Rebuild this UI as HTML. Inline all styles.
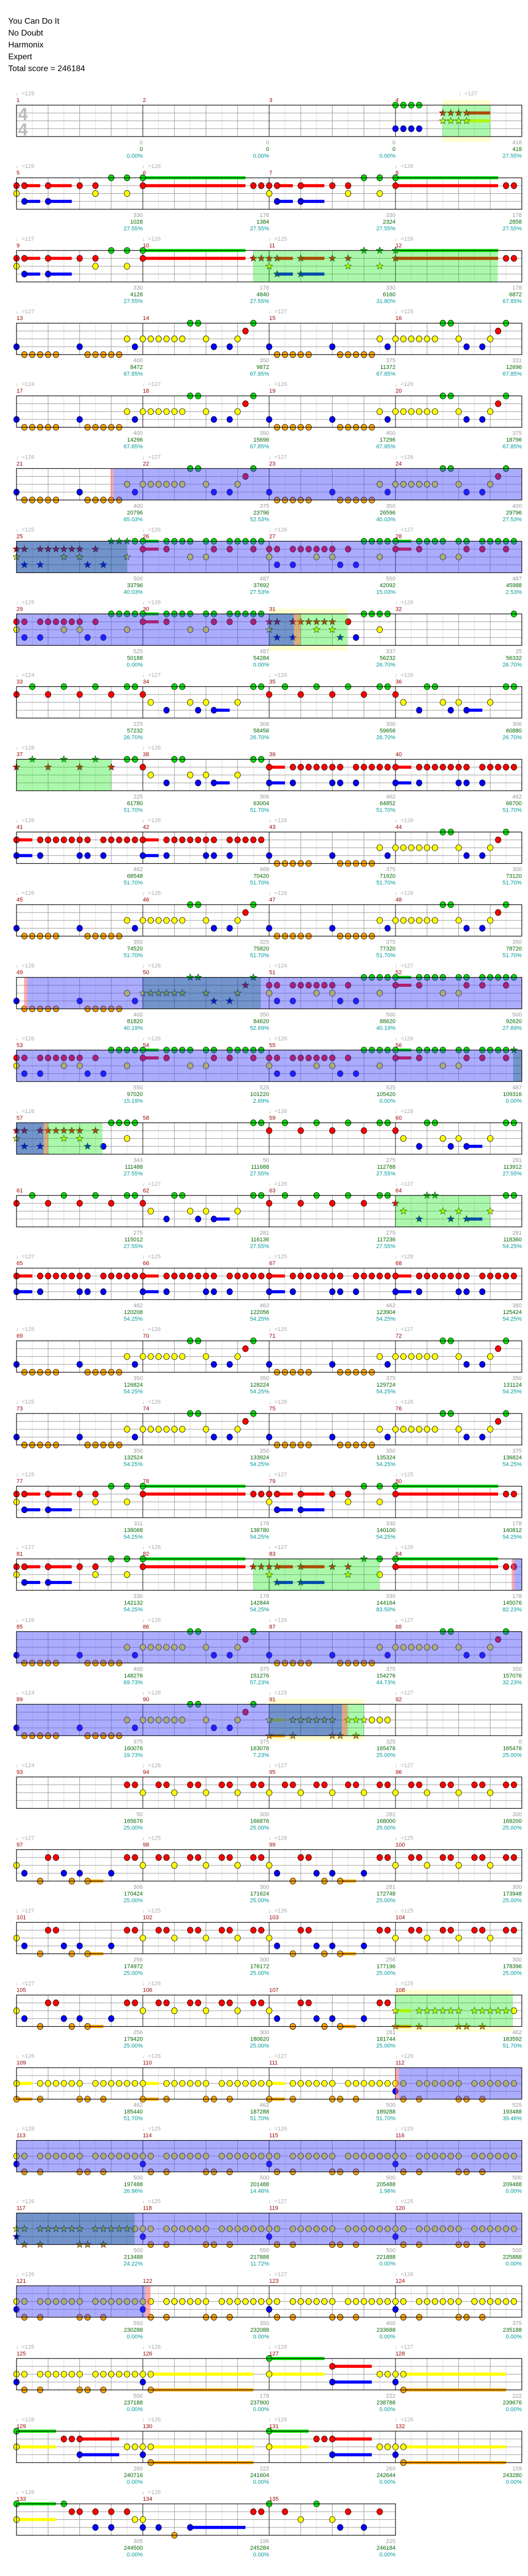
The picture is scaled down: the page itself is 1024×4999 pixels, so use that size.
<!DOCTYPE html>
<html><head><meta charset="utf-8">
<style>
html,body{margin:0;padding:0;background:#fff;width:1024px;height:4999px;overflow:hidden}
#title{position:absolute;left:16px;top:30px;font-family:"Liberation Sans",sans-serif;font-size:16px;line-height:23px;color:#000}
svg{position:absolute;left:0;top:0}
</style></head><body>
<div id="title">You Can Do It<br>No Doubt<br>Harmonix<br>Expert<br>Total score = 246184</div>
<div id="c"></div>
<script>
var X0=32,MW=245,SH=61,LS=15.25;
function T(r){return 204+r*141.06;}
var TP={
E:[],E1:[[0,15]],E2:[[0,14],[0,15]],
I4:[[0,0],[0,1],[0,2],[0,3],[3,0],[3,1],[3,2],[3,3],[1,6],[1,7],[1,8],[1,9,3],[2,6],[2,7],[2,8],[2,9,3]],
S1:[[1,0],[1,1,2],[2,0],[1,4,3],[3,1,2],[3,4,3],[1,8],[1,10],[2,10],[0,12],[0,14],[2,14]],
S2:[[0,0,13],[1,0,13],[1,14],[1,15]],
Y1:[[3,0],[4,1],[4,2],[4,3],[4,4],[4,5],[3,8],[4,9],[4,10],[4,11],[4,12],[4,13],[2,14],[3,15]],
Y2:[[2,0],[2,1],[2,2],[2,3],[2,4],[2,5],[0,6],[0,7],[2,8],[3,9],[3,11],[2,12],[1,13],[0,14]],
R1:[[0,0,2],[1,0,2],[0,3],[0,4],[0,5],[0,6],[0,8],[0,9],[0,11],[0,12],[0,13],[0,14],[0,15],[1,3],[1,9],[1,11],[1,14],[2,6],[2,8]],
R2:[[1,0],[1,1],[1,3],[1,4],[1,5],[1,6],[1,7],[1,8],[1,10],[0,12],[0,13],[0,14],[0,15],[3,1],[3,3],[3,9],[3,11],[2,0],[2,6],[2,8],[2,14]],
G1:[[0,2],[0,6],[0,10],[0,14],[0,15],[1,0],[1,4],[1,8],[1,12]],
G2:[[1,0],[2,1],[3,3],[0,4],[0,5],[2,6],[2,8],[3,7],[3,9,2],[2,12],[0,14],[0,15]],
D:[[1,0,2],[3,0,2],[1,3],[1,4],[1,5],[1,6],[1,7],[1,8],[1,9],[1,11],[1,12],[1,13],[1,14],[1,15],[3,3],[3,8],[3,9],[3,11]],
P0:[[1,14],[1,15]],
P1:[[2,0],[1,2],[1,3],[2,4],[1,6],[1,7],[2,8],[1,10],[1,11],[2,12],[1,14],[1,15]],
P2:[[2,0],[3,1],[1,4],[1,5],[4,3],[3,6],[3,8],[4,7],[4,9,2],[3,12],[1,14],[1,15]],
Q:[[2,0,2],[4,0,2],[2,3],[2,4],[2,5],[2,6],[2,7],[2,8],[2,10],[2,11],[2,12],[2,13],[2,14],[2,15],[4,3],[4,8],[4,9],[4,11]],
Q2:[[2,0],[2,1],[2,3],[2,4],[2,5],[2,6],[2,7],[2,8],[2,10],[2,11],[2,12],[2,13],[2,14],[2,15],[3,0],[4,1],[4,3],[4,8],[4,9],[4,11]],
Z1:[[2,0],[3,0],[2,1,13],[4,1,13]],
Z2:[[0,0,7],[2,0,7],[1,8,5],[3,8,5],[2,14],[2,15]],
Z3:[[0,0,5],[2,0,5],[1,6],[1,7],[1,8,5],[3,8,5],[2,14],[2,15]],
L1:[[0,0,5],[2,0,5],[0,6],[1,7],[1,8],[1,10],[1,12],[1,14],[3,10],[3,12],[2,15]],
L2:[[2,0],[3,0],[3,2],[4,4],[3,6,7],[1,14],[1,15]],
L3:[[0,0],[1,2],[2,4],[0,6],[2,8],[1,10],[3,9],[1,14],[3,12]]
};
var ROWS=[
"E E E I4","S1 S2 S1 S2","S1 S2 S1 S2","Y1 Y2 Y1 Y2","Y1 Y2 Y1 Y2","Y1 Y2 Y1 Y2",
"R2 R1 R2 R1","R2 R1 R2 E1","G1 G2 G1 G2","G1 G2 D D","D D Y1 Y2","Y1 Y2 Y1 Y2",
"Y1 Y2 R2 R1","R2 R1 R2 R1","R2 E2 G1 G2","G1 G2 G1 G2","D D D D","Y1 Y2 Y1 Y2",
"Y1 Y2 Y1 Y2","S1 S2 S1 S2","S1 S2 S1 S2","Y1 Y2 Y1 Y2","Y1 Y2 Q E","P0 P1 P1 P1",
"P2 P1 P2 P1","P2 P1 P2 P1","P2 P1 P2 Q","Q Q Q Q2","Q2 Q2 Q2 Q2","Q2 Q2 Q2 Q2",
"Q2 Q2 Q2 Q2","Q2 Z1 Z2 Z1","Z3 Z1 Z3 Z1","L1 L2 L3"];
// overlays: [row, type, start, end] type: b blue, g green, t teal, n tan, p pink, y pale
var OV=[
[0,'y',3.37,3.75],[0,'g',3.37,3.75],
[2,'g',1.874,3.81],
[5,'p',0.745,0.767],[5,'b',0.767,4],
[6,'t',0,0.876],[6,'b',0.876,4],
[7,'y',2,2.62],[7,'b',0,2],[7,'t',2,2.196],[7,'n',2.196,2.25],[7,'g',2.25,2.62],
[9,'g',0,0.75],
[12,'p',0.06,0.085],[12,'b',0.085,1],[12,'t',1,1.935],[12,'b',1.935,4],
[13,'b',0,3.93],[13,'t',3.93,4],
[14,'t',0,0.215],[14,'n',0.215,0.25],[14,'g',0.25,0.68],
[15,'g',3,3.75],
[20,'g',1.874,2.874],[20,'p',3.92,3.94],[20,'b',3.94,4],
[21,'b',0,4],
[22,'y',2,2.75],[22,'b',0,2],[22,'t',2,2.576],[22,'n',2.576,2.62],[22,'g',2.62,2.75],
[26,'y',3,3.93],[26,'g',3,3.93],
[27,'p',3,3.025],[27,'b',3.025,4],
[28,'b',0,4],
[29,'t',0,0.936],[29,'b',0.936,4],
[30,'b',0,1.02],[30,'p',1.02,1.06]
];
var SC=[
["0 0 0.00%","0 0 0.00%","0 0 0.00%","418 418 27.55%"],
["330 1028 27.55%","178 1384 27.55%","330 2324 27.55%","178 2858 27.55%"],
["330 4128 27.55%","178 4840 27.55%","330 6160 31.80%","178 6872 67.85%"],
["400 8472 67.85%","350 9872 67.85%","375 11372 67.85%","331 12696 67.85%"],
["400 14296 67.85%","350 15696 67.85%","400 17296 67.85%","375 18796 67.85%"],
["400 20796 65.03%","375 23796 52.53%","350 26596 40.03%","400 29796 27.53%"],
["500 33796 40.03%","487 37692 27.53%","550 42092 15.03%","487 45988 2.53%"],
["525 50188 0.00%","487 54284 0.00%","337 56232 26.70%","25 56332 26.70%"],
["225 57232 26.70%","306 58456 26.70%","300 59656 26.70%","306 60880 26.70%"],
["225 61780 51.70%","306 63004 51.70%","462 64852 51.70%","462 66700 51.70%"],
["462 68548 51.70%","468 70420 51.70%","375 71920 51.70%","300 73120 51.70%"],
["350 74520 51.70%","325 75820 51.70%","375 77320 51.70%","350 78720 51.70%"],
["400 81820 40.19%","350 84620 52.69%","500 88620 40.19%","500 92620 27.69%"],
["550 97020 15.19%","525 101220 2.69%","525 105420 0.00%","487 109316 0.00%"],
["343 111488 27.55%","50 111688 27.55%","275 112788 27.55%","281 113912 27.55%"],
["275 115012 27.55%","281 116136 27.55%","275 117236 27.55%","281 118360 54.25%"],
["462 120208 54.25%","462 122056 54.25%","462 123904 54.25%","380 125424 54.25%"],
["350 126824 54.25%","350 128224 54.25%","375 129724 54.25%","350 131124 54.25%"],
["350 132524 54.25%","350 133924 54.25%","350 135324 54.25%","375 136824 54.25%"],
["311 138068 54.25%","178 138780 54.25%","330 140100 54.25%","178 140812 54.25%"],
["330 142132 54.25%","178 142844 54.25%","330 144164 83.50%","178 145076 82.23%"],
["400 148276 69.73%","375 151276 57.23%","375 154276 44.73%","350 157076 32.23%"],
["375 160076 19.73%","375 163076 7.23%","325 165476 25.00%","0 165476 25.00%"],
["50 165676 25.00%","300 166876 25.00%","281 168000 25.00%","300 169200 25.00%"],
["306 170424 25.00%","300 171624 25.00%","281 172748 25.00%","300 173948 25.00%"],
["256 174972 25.00%","300 176172 25.00%","256 177196 25.00%","300 178396 25.00%"],
["256 179420 25.00%","300 180620 25.00%","281 181744 25.00%","462 183592 51.70%"],
["462 185440 51.70%","462 187288 51.70%","500 189288 51.70%","525 193488 39.46%"],
["500 197488 26.96%","500 201488 14.46%","500 205488 1.96%","500 209488 0.00%"],
["500 213488 24.22%","550 217888 11.72%","500 221888 0.00%","500 225888 0.00%"],
["550 230288 0.00%","350 232088 0.00%","400 233688 0.00%","375 235188 0.00%"],
["500 237188 0.00%","178 237900 0.00%","222 238788 0.00%","222 239676 0.00%"],
["260 240716 0.00%","222 241604 0.00%","260 242644 0.00%","159 243280 0.00%"],
["305 244500 0.00%","196 245284 0.00%","225 246184 0.00%"]
];
var TM="129,,,,125,126,,126,127,126,125,126,127,,127,125,124,127,126,126,126,127,127,126,125,126,126,127,125,126,,126,124,127,126,126,126,126,,,126,126,126,126,126,126,126,126,126,126,124,127,126,126,126,126,126,,126,126,,127,126,127,127,125,125,128,125,128,125,127,125,126,126,126,125,,127,125,127,126,127,126,126,126,126,127,124,128,128,127,124,126,127,127,127,125,126,125,127,125,126,125,127,126,,125,126,126,127,126,128,125,126,125,126,125,127,125,126,,127,126,125,126,126,127,126,126,126,126,126,126,".split(",");
var COL=['#00e000','#ff0000','#ffff00','#0000ff','#ffa500'];
var OC={b:'rgba(70,70,255,0.45)',g:'rgba(0,230,0,0.33)',t:'rgba(0,60,160,0.55)',n:'rgba(190,120,40,0.6)',p:'rgba(255,100,100,0.55)',y:'#ffffd0'};
function star(cx,cy,r,f){var p=[];for(var i=0;i<10;i++){var a=-Math.PI/2+i*Math.PI/5,rr=i%2?r*0.42:r;p.push((cx+rr*Math.cos(a)).toFixed(1)+','+(cy+rr*Math.sin(a)).toFixed(1));}
return '<polygon points="'+p.join(' ')+'" fill="'+f+'" stroke="#222" stroke-width="0.7"/>';}
var s='<svg xmlns="http://www.w3.org/2000/svg" width="1024" height="4999" font-family="Liberation Sans, DejaVu Sans, sans-serif">';
var mnum=1;
for(var r=0;r<ROWS.length;r++){
 var t=T(r),ms=ROWS[r].split(' '),n=ms.length,W=n*MW;
 var ovs=OV.filter(function(o){return o[0]==r;});
 // pale yellow first
 ovs.forEach(function(o){if(o[1]=='y')s+='<rect x="'+(X0+o[2]*MW)+'" y="'+(t-10)+'" width="'+((o[3]-o[2])*MW)+'" height="81" fill="'+OC.y+'"/>';});
 s+='<rect x="'+X0+'" y="'+t+'" width="'+W+'" height="'+SH+'" fill="#fff"/>';
 // grid
 for(var k=0;k<n*8;k++){var x=X0+k*MW/8;if(k%2)s+='<line x1="'+x+'" y1="'+t+'" x2="'+x+'" y2="'+(t+SH)+'" stroke="#ddd" stroke-width="1"/>';}
 for(var k=0;k<n*4;k++){var x=X0+k*MW/4;if(k%4)s+='<line x1="'+x+'" y1="'+t+'" x2="'+x+'" y2="'+(t+SH)+'" stroke="#999" stroke-width="1"/>';}
 for(var l=1;l<4;l++)s+='<line x1="'+X0+'" y1="'+(t+l*LS)+'" x2="'+(X0+W)+'" y2="'+(t+l*LS)+'" stroke="#999" stroke-width="1"/>';
 for(var m=0;m<n;m++){var x=X0+m*MW;s+='<line x1="'+x+'" y1="'+t+'" x2="'+x+'" y2="'+(t+SH)+'" stroke="#000" stroke-width="1"/>';}
 if(r==0){s+='<text x="35" y="'+(t+29)+'" font-size="34" fill="#bbb" font-weight="bold">4</text><text x="35" y="'+(t+59)+'" font-size="34" fill="#bbb" font-weight="bold">4</text>';}
 // notes
 var sts=[];
 for(var m=0;m<n;m++){var tp=TP[ms[m]];
  tp.forEach(function(nt){var x=X0+m*MW+nt[1]*MW/16,y=t+nt[0]*LS;
   if(nt[2])s+='<rect x="'+x+'" y="'+(y-3)+'" width="'+(nt[2]*MW/16)+'" height="6" fill="'+COL[nt[0]]+'"/>';
   sts.push([x,y,nt[0],m+nt[1]/16]);});}
 sts.forEach(function(q){var isStar=ovs.some(function(o){return (o[1]=='g'||o[1]=='t')&&q[3]>=o[2]-0.01&&q[3]<=o[3];});
  if(isStar)s+=star(q[0],q[1],7,COL[q[2]]);else s+='<ellipse cx="'+q[0]+'" cy="'+q[1]+'" rx="5.5" ry="6" fill="'+COL[q[2]]+'" stroke="#000" stroke-width="0.8"/>';});
 // overlays
 ovs.forEach(function(o){if(o[1]!='y')s+='<rect x="'+(X0+o[2]*MW)+'" y="'+t+'" width="'+((o[3]-o[2])*MW)+'" height="'+SH+'" fill="'+OC[o[1]]+'"/>';});
 s+='<rect x="'+X0+'" y="'+t+'" width="'+W+'" height="'+SH+'" fill="none" stroke="#000" stroke-width="1.2"/>';
 // text
 for(var m=0;m<n;m++){var x=X0+m*MW,tm=TM[mnum-1];
  if(tm)s+='<text x="'+(x-1)+'" y="'+(t-19)+'" font-size="11" fill="#aaa">\u2669=' + tm + '</text>';
  s+='<text x="'+(x)+'" y="'+(t-6)+'" font-size="11" fill="#900">'+mnum+'</text>';
  var sc=SC[r][m].split(' '),xe=x+MW;
  s+='<text x="'+xe+'" y="'+(t+76)+'" font-size="11" fill="#999" text-anchor="end">'+sc[0]+'</text>';
  s+='<text x="'+xe+'" y="'+(t+89)+'" font-size="11" fill="#060" text-anchor="end">'+sc[1]+'</text>';
  s+='<text x="'+xe+'" y="'+(t+102)+'" font-size="11" fill="#099" text-anchor="end">'+sc[2]+'</text>';
  mnum++;}
 if(r==0)s+='<text x="890" y="'+(t-19)+'" font-size="11" fill="#aaa">\u2669=127</text>';
}
s+='</svg>';
document.getElementById('c').innerHTML=s;
</script>
</body></html>
